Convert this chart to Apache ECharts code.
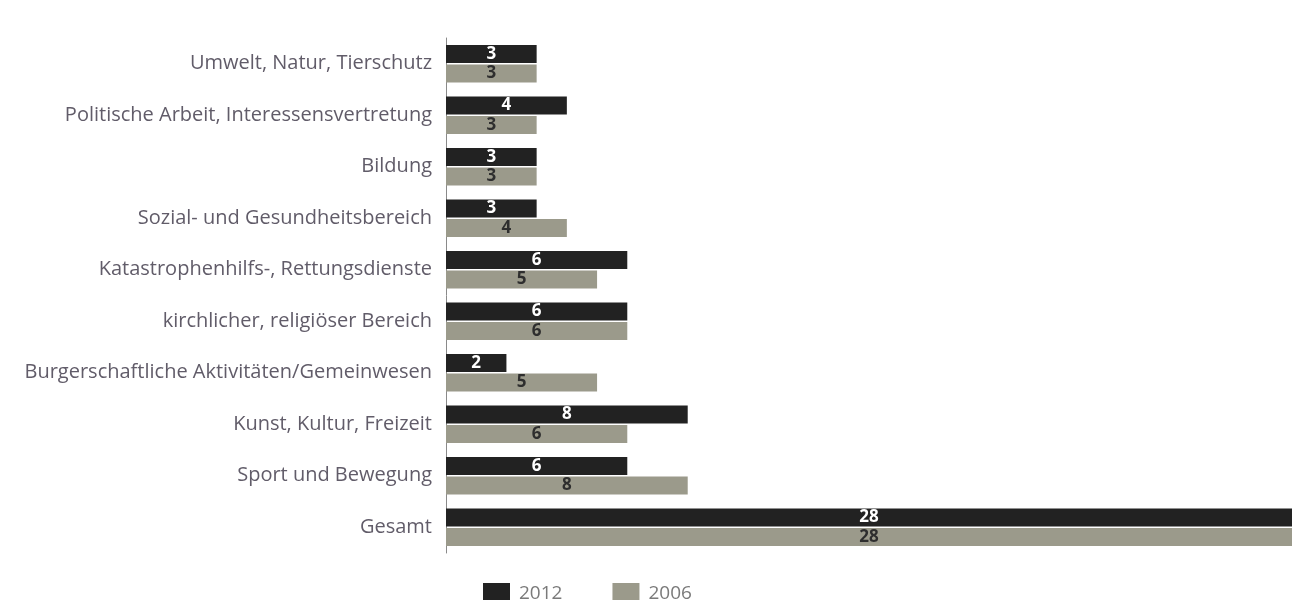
<!DOCTYPE html>
<html>
<head>
<meta charset="utf-8">
<script src="https://cdn.jsdelivr.net/npm/echarts@6/dist/echarts.min.js"></script>
<style>
  html, body { margin: 0; padding: 0; background: #ffffff; }
  #chart { width: 1292px; height: 600px; }
</style>
</head>
<body>
<div id="chart"></div>
<script>
// Engagement areas, top to bottom
const categories = [
  'Umwelt, Natur, Tierschutz',
  'Politische Arbeit, Interessensvertretung',
  'Bildung',
  'Sozial- und Gesundheitsbereich',
  'Katastrophenhilfs-, Rettungsdienste',
  'kirchlicher, religiöser Bereich',
  'Burgerschaftliche Aktivitäten/Gemeinwesen',
  'Kunst, Kultur, Freizeit',
  'Sport und Bewegung',
  'Gesamt'
];
const values2012 = [3, 4, 3, 3, 6, 6, 2, 8, 6, 28];
const values2006 = [3, 3, 3, 4, 5, 6, 5, 6, 8, 28];
const seriesNames = ['2012', '2006'];

const chart = echarts.init(document.getElementById('chart'));

const labelBase = {
  show: true,
  position: 'inside',
  fontFamily: 'Open Sans',
  fontWeight: 'bold',
  fontSize: 17
};

chart.setOption({
  animation: false,
  backgroundColor: '#ffffff',
  grid: { left: 446, right: 0, top: 38, bottom: 47, containLabel: false },
  xAxis: {
    type: 'value',
    min: 0,
    max: 28,
    show: false
  },
  yAxis: {
    type: 'category',
    data: categories,
    inverse: true,
    axisLine: { show: true, lineStyle: { color: '#8a8a8a', width: 1 } },
    axisTick: { show: false },
    axisLabel: {
      margin: 14,
      fontFamily: 'Open Sans',
      fontSize: 20,
      color: '#615c69'
    },
    splitLine: { show: false }
  },
  legend: {
    data: seriesNames,
    left: 478,
    top: 578,
    itemWidth: 27,
    itemHeight: 21,
    itemGap: 50,
    icon: 'rect',
    textStyle: { fontFamily: 'Open Sans', fontSize: 19, color: '#7a7a7a', padding: [0, 0, 0, 4] }
  },
  series: [
    {
      name: seriesNames[0],
      type: 'bar',
      data: values2012,
      barWidth: 18,
      barGap: '8%',
      itemStyle: { color: '#222222' },
      label: Object.assign({}, labelBase, { color: '#ffffff' })
    },
    {
      name: seriesNames[1],
      type: 'bar',
      data: values2006,
      barWidth: 18,
      barGap: '8%',
      itemStyle: { color: '#9b9a8b' },
      label: Object.assign({}, labelBase, { color: '#2e2e2e' })
    }
  ]
});
</script>
</body>
</html>
